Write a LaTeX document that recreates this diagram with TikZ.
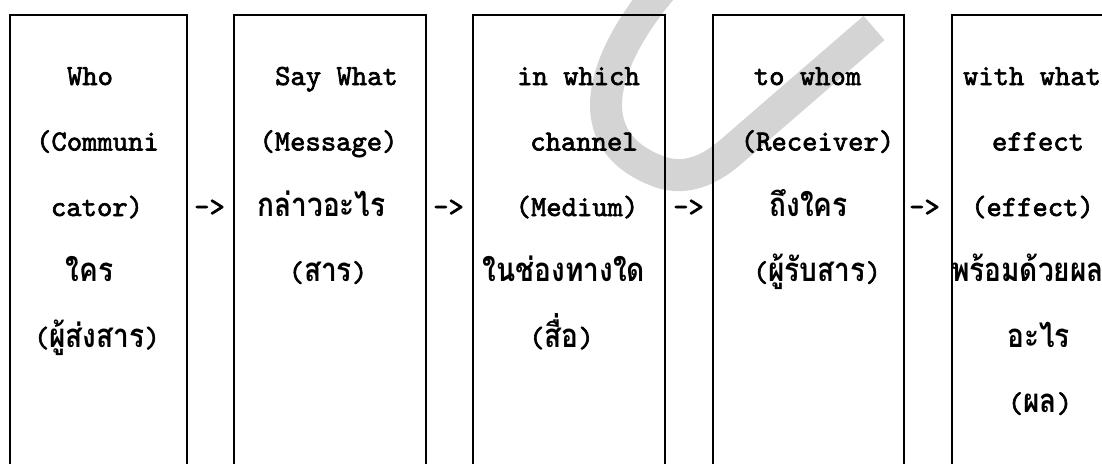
\documentclass[tikz,border=0pt]{standalone}
\usepackage{fontspec}
\setmonofont[FakeBold=2.2]{lmmono10-regular.otf}
\newfontfamily\thaifont[Script=Thai,FakeStretch=0.85]{Loma}
\newcommand\thx[1]{{\thaifont\fontsize{33}{33}\selectfont\bfseries #1}}

\tikzset{
  cell/.style={draw, line width=1.8pt, inner sep=0pt, minimum height=470pt},
  txt/.style={anchor=base, inner sep=0pt,
    font=\fontsize{29.2}{30}\selectfont\ttfamily},
  tickstroke/.style={line width=32pt, draw=black!17},
}

\begin{document}
\begin{tikzpicture}[x=1pt, y=-1pt]
\useasboundingbox (0,0) rectangle (1102,463);
\clip (0,0) rectangle (1102,463);

% light tick stroke behind the boxes
\draw[tickstroke] (664,-14) .. controls (605,55) and (572,140) .. (660,172)
  .. controls (690,182) and (715,166) .. (733,150) -- (874,28);

% the five boxes (they run off the lower edge)
\node[cell, minimum width=177pt, anchor=north west] (b1) at (9,14) {};
\node[cell, minimum width=192pt, anchor=north west] (b2) at (233,14) {};
\node[cell, minimum width=192pt, anchor=north west] (b3) at (472,14) {};
\node[cell, minimum width=191pt, anchor=north west] (b4) at (712,14) {};
\node[cell, minimum width=200pt, anchor=north west] (b5) at (951,14) {};

% Who
\node[txt] (t11) at (90,85) {Who};
\node[txt] (t12) at (97.5,150.5) {(Communi};
\node[txt] (t13) at (97,216) {cator)};
\node[txt] (t14) at (89.5,281.5) {\thx{ใคร}};
\node[txt] (t15) at (97,347) {(\thx{ผู้ส่งสาร})};

% Say What
\node[txt] (t21) at (336.5,85) {Say What};
\node[txt] (t22) at (328.5,150.5) {(Message)};
\node[txt] (t23) at (321.5,216) {\thx{กล่าวอะไร}};
\node[txt] (t24) at (328,281.5) {(\thx{สาร})};

% in which channel
\node[txt] (t31) at (578.5,85) {in which};
\node[txt] (t32) at (584,150.5) {channel};
\node[txt] (t33) at (577,216) {(Medium)};
\node[txt] (t34) at (564,281.5) {\thx{ในช่องทางใด}};
\node[txt] (t35) at (561.5,347) {(\thx{สื่อ})};

% to whom
\node[txt] (t41) at (807.5,85) {to whom};
\node[txt] (t42) at (817.5,150.5) {(Receiver)};
\node[txt] (t43) at (808.5,216) {\thx{ถึงใคร}};
\node[txt] (t44) at (817,281.5) {(\thx{ผู้รับสาร})};

% with what effect
\node[txt] (t51) at (1032,85) {with what};
\node[txt] (t52) at (1038,150.5) {effect};
\node[txt] (t53) at (1032.5,216) {(effect)};
\node[txt] (t54) at (1027.5,281.5) {\thx{พร้อมด้วยผล}};
\node[txt] (t55) at (1038.5,347) {\thx{อะไร}};
\node[txt] (t56) at (1040,412.5) {(\thx{ผล})};

% arrows between the boxes
\node[txt] (a1) at (209.5,216) {->};
\node[txt] (a2) at (448.5,216) {->};
\node[txt] (a3) at (688.5,216) {->};
\node[txt] (a4) at (924.5,216) {->};
\end{tikzpicture}
\end{document}
